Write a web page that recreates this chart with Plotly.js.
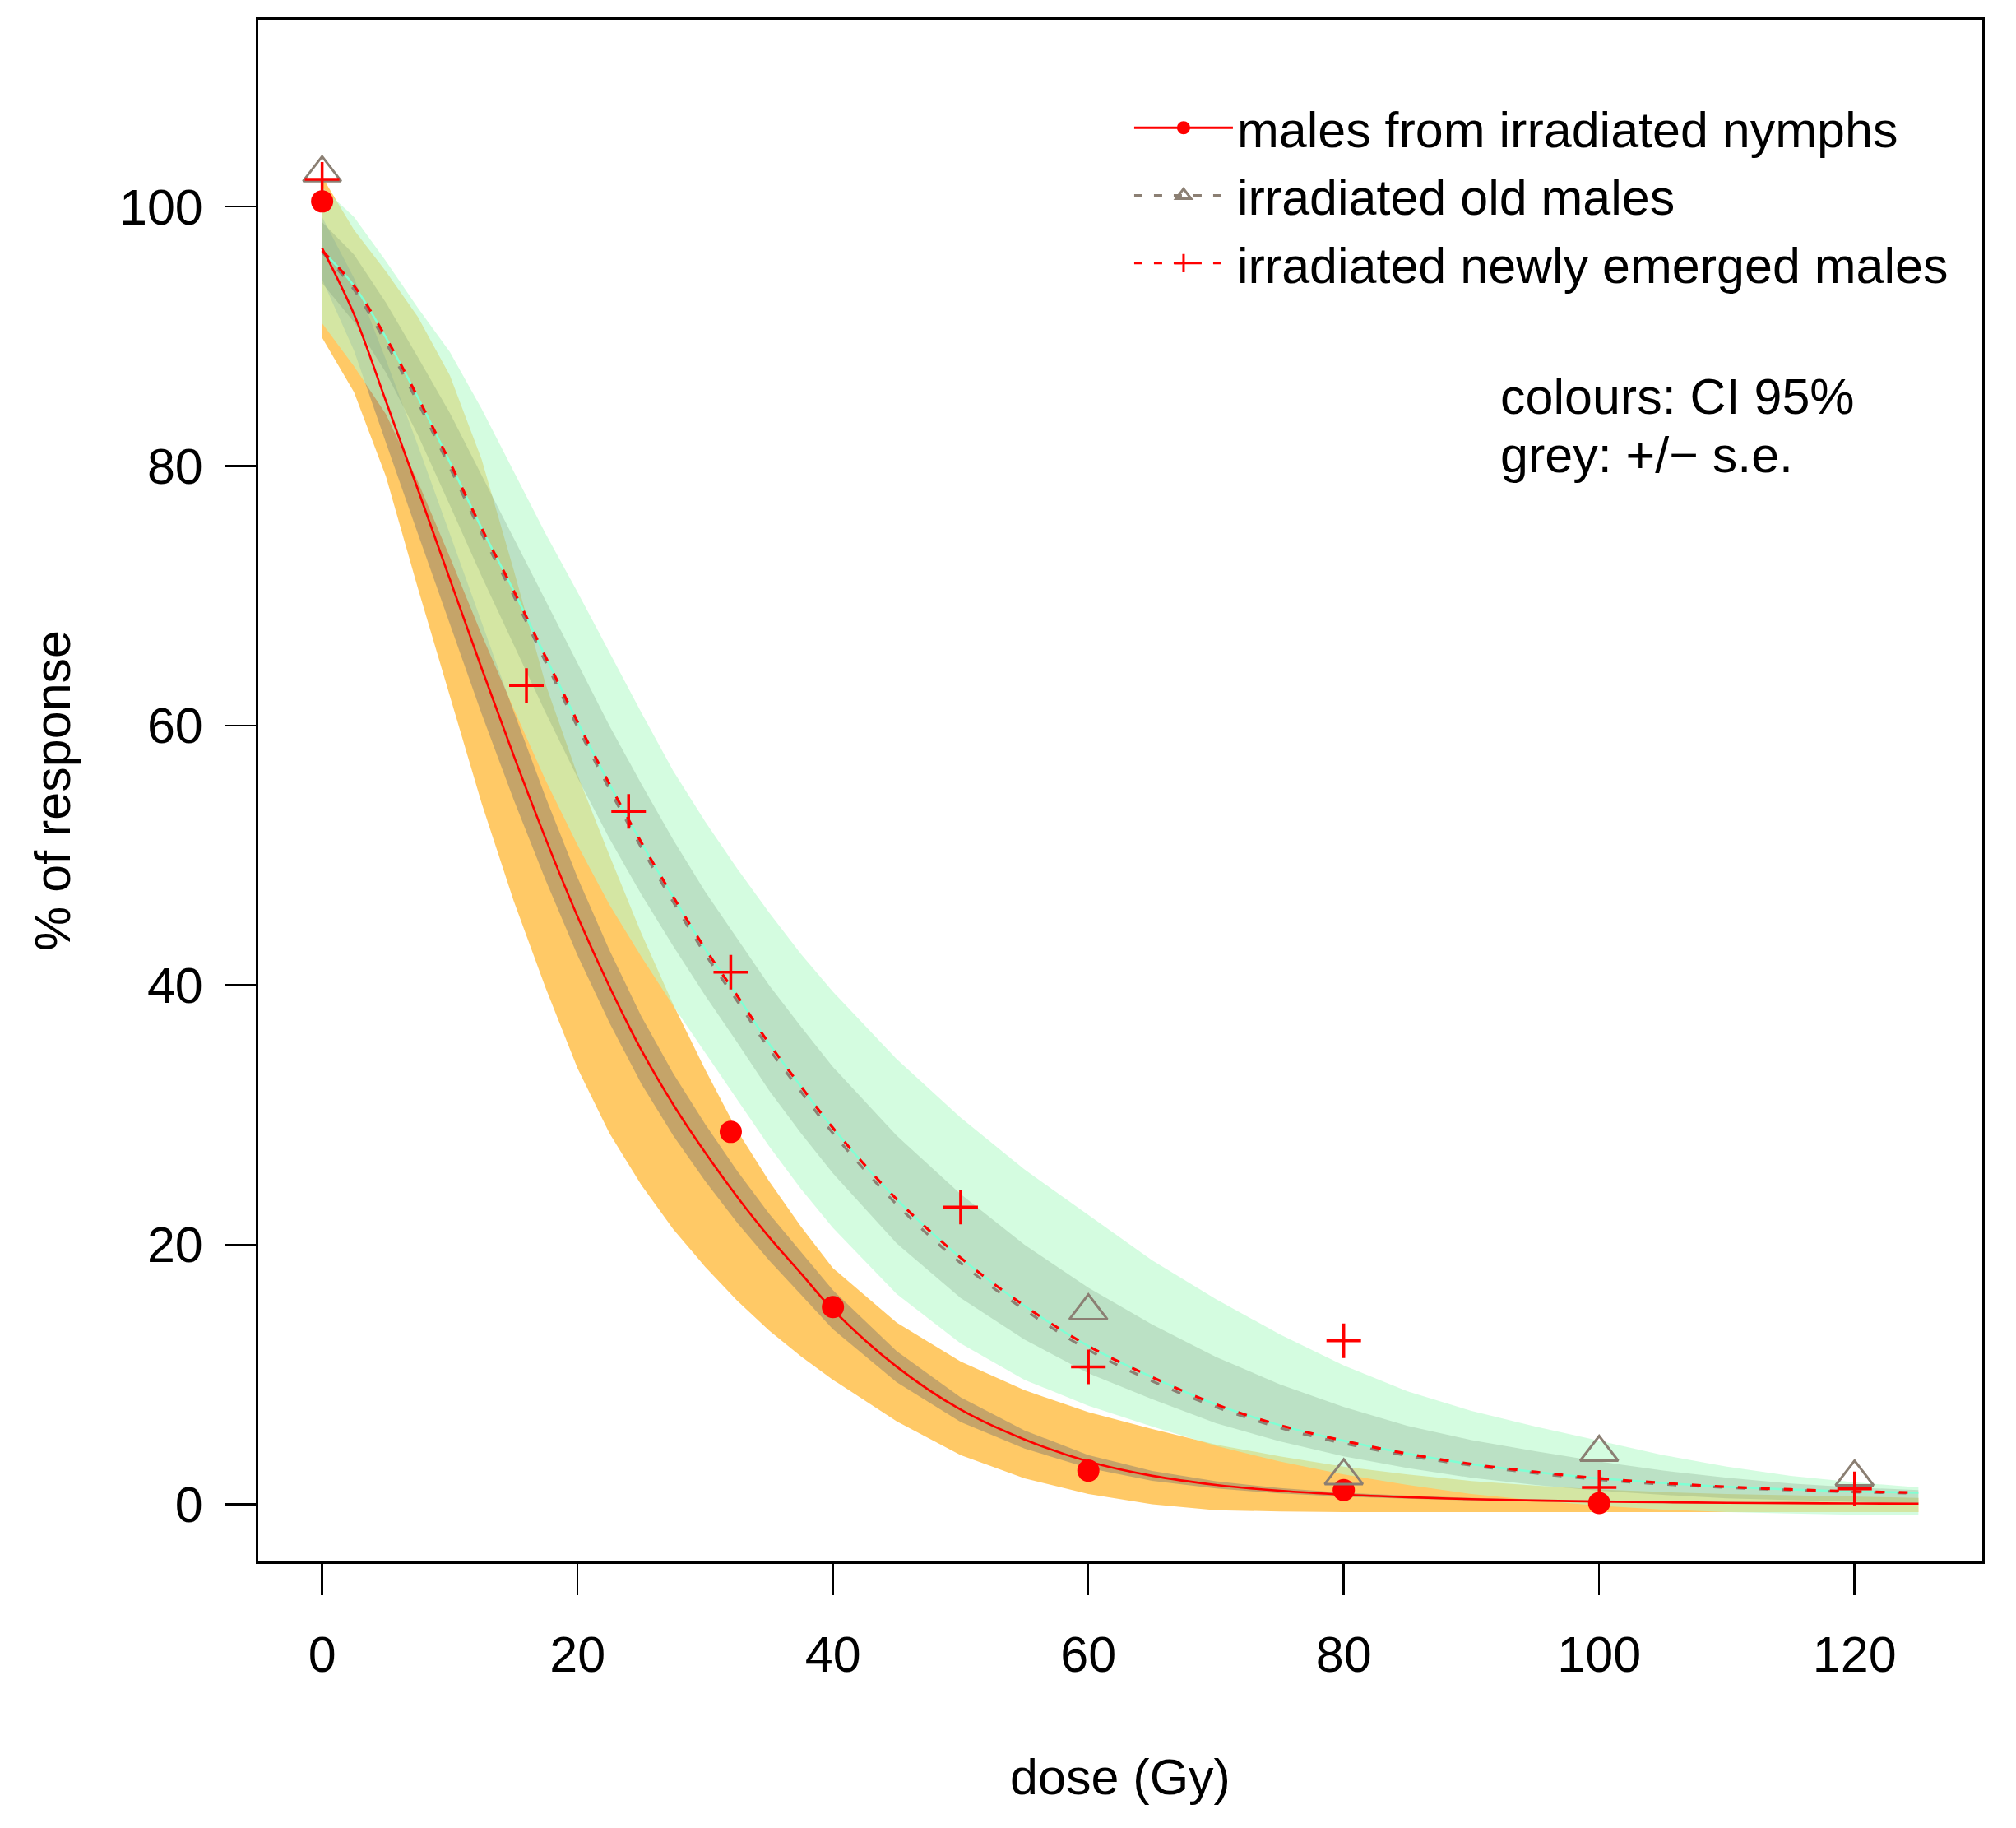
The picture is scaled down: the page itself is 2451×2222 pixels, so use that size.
<!DOCTYPE html>
<html>
<head>
<meta charset="utf-8">
<script src="https://cdn.plot.ly/plotly-3.0.1.min.js"></script>
<style>html,body{margin:0;padding:0;background:#fff;}#chart{width:2451px;height:2222px;}</style>
</head>
<body>
<div id="chart"></div>
<script>
// ---- dose grid for fitted curves and bands (Gy) ----
const gridDose = [0,2.5,5,7.5,10,12.5,15,17.5,20,22.5,25,27.5,30,32.5,35,37.5,40,45,50,55,60,65,70,75,80,85,90,95,100,105,110,115,120,125];

// males from irradiated nymphs: fitted curve, +/- s.e., CI 95%
const nymphFit  = [96.8,91.7,85.0,78.2,71.3,64.4,57.7,51.3,45.3,39.9,35.0,30.8,27.1,23.7,20.6,17.8,15.0,10.6,7.3,5.0,3.3,2.2,1.5,1.05,0.75,0.55,0.4,0.3,0.22,0.16,0.12,0.09,0.07,0.05];
const nymphSeUp = [99.2,94.5,88.2,81.6,74.8,67.9,61.1,54.5,48.3,42.7,37.6,33.2,29.3,25.7,22.4,19.45,16.5,11.8,8.25,5.7,3.8,2.58,1.78,1.25,0.9,0.67,0.5,0.38,0.3,0.24,0.2,0.17,0.15,0.13];
const nymphSeLo = [94.4,88.9,81.8,74.8,67.8,60.9,54.3,48.1,42.3,37.1,32.4,28.4,24.9,21.7,18.8,16.15,13.5,9.4,6.35,4.3,2.8,1.82,1.22,0.85,0.6,0.43,0.3,0.22,0.14,0.08,0.04,0.01,-0.01,-0.03];
const nymphCiUp = [102.3,98.2,95.0,91.5,87.0,80.5,72.0,63.2,56.2,50.0,44.0,38.5,33.5,28.8,24.9,21.4,18.2,14.0,11.0,8.8,7.1,5.8,4.6,3.7,2.9,2.3,1.8,1.45,1.15,0.95,0.8,0.7,0.6,0.5];
const nymphCiLo = [89.9,85.7,79.2,70.6,62.3,54.0,46.5,39.8,33.6,28.6,24.6,21.2,18.3,15.7,13.4,11.4,9.6,6.4,3.8,2.0,0.8,0.0,-0.45,-0.55,-0.6,-0.6,-0.6,-0.6,-0.6,-0.6,-0.6,-0.6,-0.6,-0.6];

// irradiated old males / newly emerged males: fitted curves, +/- s.e., CI 95%
const oldFit    = [96.5,93.6,89.5,84.9,79.9,74.8,70.0,64.9,59.9,55.1,50.6,46.4,42.4,38.8,35.1,31.8,28.6,23.1,18.6,15.0,11.9,9.5,7.5,5.9,4.7,3.75,3.0,2.4,1.9,1.55,1.3,1.1,0.95,0.85];
const newFit    = [96.6,93.9,89.9,85.3,80.3,75.2,70.4,65.3,60.3,55.5,51.0,46.8,42.8,39.2,35.5,32.2,29.0,23.5,19.0,15.3,12.2,9.8,7.7,6.1,4.9,3.9,3.1,2.5,2.0,1.65,1.35,1.15,1.0,0.9];
const newSeUp   = [98.8,96.3,92.6,88.4,84.1,79.3,74.5,69.6,64.8,60.0,55.5,51.2,47.2,43.6,40.0,36.8,33.7,28.4,23.9,20.0,16.7,13.85,11.35,9.25,7.5,6.05,4.95,4.1,3.3,2.6,2.05,1.6,1.3,1.1];
const newSeLo   = [94.1,91.1,87.2,82.4,77.0,71.5,66.3,61.0,56.0,51.3,47.0,43.0,39.2,35.6,31.9,28.6,25.5,20.1,15.9,12.7,10.1,8.1,6.25,4.85,3.7,2.8,2.05,1.5,1.05,0.73,0.47,0.32,0.19,0.11];
const newCiUp   = [101.5,99.2,95.8,92.2,88.8,84.4,79.6,74.8,70.3,65.6,61.0,56.5,52.6,49.0,45.6,42.4,39.5,34.3,29.8,25.8,22.3,18.8,15.8,13.1,10.7,8.7,7.2,6.0,4.9,3.8,2.9,2.2,1.7,1.3];
const newCiLo   = [91.0,87.7,84.0,78.8,73.0,67.0,61.3,55.8,50.8,46.2,42.2,38.4,34.8,31.2,27.6,24.3,21.3,16.2,12.4,9.6,7.6,6.0,4.5,3.3,2.3,1.5,0.8,0.3,-0.1,-0.4,-0.6,-0.7,-0.8,-0.85];

// observed responses (%)
const nymphDose = [0,32,40,60,80,100];
const nymphResp = [100.4,28.7,15.2,2.6,1.1,0.1];
const oldDose   = [0,60,80,100,120];
const oldResp   = [102.6,14.9,2.2,4.0,2.1];
const newDose   = [0,16,24,32,50,60,80,100,120];
const newResp   = [102.1,63.1,53.4,41.0,22.9,10.6,12.6,1.3,1.2];

// tick values and texts
const xTicks = [0,20,40,60,80,100,120];
const yTicks = [0,20,40,60,80,100];
const seriesNames = ['males from irradiated nymphs','irradiated old males','irradiated newly emerged males'];
const noteLines = ['colours: CI 95%','grey: +/\u2212 s.e.'];

function band(x, up, lo, color) {
  return {
    type: 'scatter', mode: 'lines',
    x: x.concat(x.slice().reverse()),
    y: up.concat(lo.slice().reverse()),
    fill: 'toself', fillcolor: color,
    line: {width: 0, color: 'rgba(0,0,0,0)'},
    hoverinfo: 'skip', showlegend: false
  };
}

const RED = '#FF0000';
const GREY = '#8B7F73';
const DASH = '11px,17px';

const traces = [
  band(gridDose, nymphCiUp, nymphCiLo, 'rgba(255,165,0,0.6)'),
  band(gridDose, nymphSeUp, nymphSeLo, 'rgba(110,110,110,0.4)'),
  band(gridDose, newCiUp, newCiLo, 'rgba(183,250,203,0.6)'),
  band(gridDose, newSeUp, newSeLo, 'rgba(100,130,100,0.22)'),
  {type:'scatter', mode:'lines', x:gridDose, y:newFit, line:{color:'#7FFFD4', width:2.5, shape:'spline'}, showlegend:false, hoverinfo:'skip'},
  {type:'scatter', mode:'lines', x:gridDose, y:oldFit, line:{color:GREY, width:3.2, dash:DASH, shape:'spline'}, showlegend:false},
  {type:'scatter', mode:'lines', x:gridDose, y:newFit, line:{color:RED, width:3.2, dash:DASH, shape:'spline'}, showlegend:false},
  {type:'scatter', mode:'lines', x:gridDose, y:nymphFit, line:{color:RED, width:2.6, shape:'spline'}, showlegend:false},
  {type:'scatter', mode:'markers', x:nymphDose, y:nymphResp, marker:{symbol:'circle', size:27, color:RED}, showlegend:false},
  {type:'scatter', mode:'markers', x:oldDose, y:oldResp, marker:{symbol:'triangle-up-open', size:40, color:GREY, line:{color:GREY, width:3}}, showlegend:false},
  {type:'scatter', mode:'markers', x:newDose, y:newResp, marker:{symbol:'cross-thin-open', size:30, color:RED, line:{color:RED, width:3.5}}, showlegend:false},
  // legend entries
  {type:'scatter', mode:'lines+markers', name:seriesNames[0], x:[null], y:[null], line:{color:RED, width:3}, marker:{symbol:'circle', size:16, color:RED}},
  {type:'scatter', mode:'lines+markers', name:seriesNames[1], x:[null], y:[null], line:{color:GREY, width:3, dash:'10px,14px'}, marker:{symbol:'triangle-up-open', size:16, color:GREY, line:{color:GREY, width:3}}},
  {type:'scatter', mode:'lines+markers', name:seriesNames[2], x:[null], y:[null], line:{color:RED, width:3, dash:'10px,14px'}, marker:{symbol:'cross-thin-open', size:16, color:RED, line:{color:RED, width:3}}}
];

const axisCommon = {
  ticks: 'outside', ticklen: 38, tickwidth: 2.5, tickcolor: '#000',
  showline: true, linewidth: 3, linecolor: '#000', mirror: true,
  showgrid: false, zeroline: false,
  tickfont: {size: 61, color: '#000'}
};

const layout = {
  width: 2451, height: 2222,
  margin: {l: 314, r: 41, t: 24, b: 324, pad: 0},
  paper_bgcolor: '#fff', plot_bgcolor: '#fff',
  font: {family: 'Liberation Sans, Arial, sans-serif', size: 61, color: '#000'},
  xaxis: Object.assign({}, axisCommon, {
    range: [-5, 130], tickmode: 'array', tickvals: xTicks, ticktext: xTicks.map(String),
    ticklabelstandoff: 20,
    title: {text: 'dose (Gy)', font: {size: 61, color: '#000'}, standoff: 95}
  }),
  yaxis: Object.assign({}, axisCommon, {
    range: [-4.4, 114.4], tickmode: 'array', tickvals: yTicks, ticktext: yTicks.map(String),
    ticklabelstandoff: 14,
    title: {text: '% of response', font: {size: 61, color: '#000'}, standoff: 40}
  }),
  showlegend: true,
  legend: {
    x: 0.5057, xanchor: 'left', y: 0.9546, yanchor: 'top',
    bgcolor: 'rgba(0,0,0,0)', borderwidth: 0,
    font: {size: 61, color: '#000'}, itemwidth: 120, traceorder: 'normal'
  },
  annotations: [
    {xref:'paper', yref:'paper', x:0.7195, y:0.7556, xanchor:'left', yanchor:'middle', text:noteLines[0], showarrow:false, font:{size:61, color:'#000'}},
    {xref:'paper', yref:'paper', x:0.7195, y:0.7177, xanchor:'left', yanchor:'middle', text:noteLines[1], showarrow:false, font:{size:61, color:'#000'}}
  ]
};

Plotly.newPlot('chart', traces, layout, {displayModeBar: false, staticPlot: true});
</script>
</body>
</html>
